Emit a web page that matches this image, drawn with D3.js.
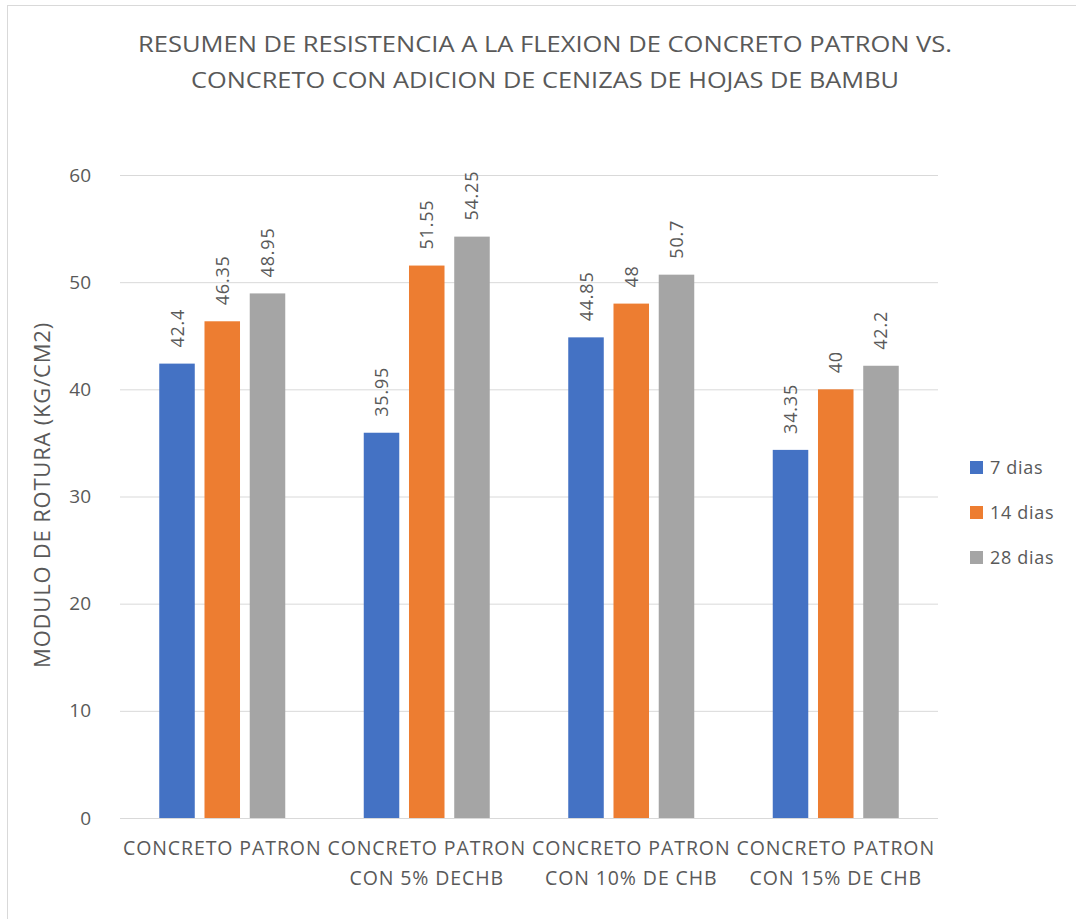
<!DOCTYPE html>
<html>
<head>
<meta charset="utf-8">
<script src="https://cdn.jsdelivr.net/npm/d3@7"></script>
<style>
  html, body { margin: 0; padding: 0; background: #fff; }
  svg { display: block; }
  text { font-family: "Open Sans", "Noto Sans", sans-serif; fill: #595959; }
</style>
</head>
<body>
<svg id="chart" width="1076" height="919"></svg>
<script>
// Flexural strength data (kg/cm2) by curing age
const categories = [
  "CONCRETO PATRON",
  "CONCRETO PATRON CON 5% DECHB",
  "CONCRETO PATRON CON 10% DE CHB",
  "CONCRETO PATRON CON 15% DE CHB"
];
const seriesNames = ["7 dias", "14 dias", "28 dias"];
const dias7 = [42.4, 35.95, 44.85, 34.35];
const dias14 = [46.35, 51.55, 48, 40];
const dias28 = [48.95, 54.25, 50.7, 42.2];
const yTicks = [0, 10, 20, 30, 40, 50, 60];
const titleLines = [
  "RESUMEN DE RESISTENCIA A LA FLEXION DE CONCRETO PATRON VS.",
  "CONCRETO CON ADICION DE CENIZAS DE HOJAS DE BAMBU"
];
const yTitle = "MODULO DE ROTURA (KG/CM2)";

const colors = ["#4472C4", "#ED7D31", "#A5A5A5"];
const seriesValues = [dias7, dias14, dias28];

const svg = d3.select("#chart");

// chart area border
svg.append("rect")
  .attr("x", 7.5).attr("y", 5.5)
  .attr("width", 1200).attr("height", 1200)
  .attr("fill", "none").attr("stroke", "#D9D9D9");

const plot = { left: 120, right: 938, top: 175, bottom: 818 };

const x0 = d3.scaleBand()
  .domain(categories)
  .range([plot.left, plot.right])
  .paddingInner(0).paddingOuter(0);

const inner = 126;
const x1 = d3.scaleBand()
  .domain(seriesNames)
  .range([(x0.bandwidth() - inner) / 2, (x0.bandwidth() + inner) / 2])
  .paddingInner(0.215).paddingOuter(0);

const y = d3.scaleLinear().domain([0, 60]).range([plot.bottom, plot.top]);

// horizontal gridlines
const yAxis = d3.axisLeft(y).tickValues(yTicks).tickSize(-(plot.right - plot.left)).tickPadding(29);
const gy = svg.append("g").attr("transform", `translate(${plot.left},0)`).call(yAxis);
gy.select(".domain").remove();
gy.selectAll(".tick line").attr("stroke", "#D9D9D9").attr("stroke-width", 1);
gy.selectAll(".tick text")
  .attr("font-size", 19)
  .attr("fill", "#595959")
  .style("font-family", '"Open Sans", sans-serif');

// bars
const groups = svg.append("g").selectAll("g")
  .data(categories)
  .join("g")
  .attr("transform", d => `translate(${x0(d)},0)`);

groups.selectAll("rect")
  .data((d, i) => seriesNames.map((s, j) => ({ s, j, v: seriesValues[j][i] })))
  .join("rect")
  .attr("x", d => x1(d.s))
  .attr("y", d => y(d.v))
  .attr("width", x1.bandwidth())
  .attr("height", d => y(0) - y(d.v))
  .attr("fill", d => colors[d.j]);

// value labels, rotated
groups.selectAll("text.val")
  .data((d, i) => seriesNames.map((s, j) => ({ s, j, v: seriesValues[j][i] })))
  .join("text")
  .attr("class", "val")
  .attr("transform", d => `translate(${x1(d.s) + x1.bandwidth() / 2 + 6.5},${y(d.v) - 16}) rotate(-90)`)
  .attr("font-size", 18)
  .attr("letter-spacing", 0.8)
  .text(d => String(d.v));

// category axis line
svg.append("line")
  .attr("x1", plot.left).attr("x2", plot.right)
  .attr("y1", plot.bottom + 0.5).attr("y2", plot.bottom + 0.5)
  .attr("stroke", "#D9D9D9");

// category labels (two lines each)
const catLabels = svg.append("g").selectAll("text")
  .data(categories)
  .join("text")
  .attr("text-anchor", "middle")
  .attr("font-size", 19.5)
  .attr("letter-spacing", 0.9)
  .attr("x", d => x0(d) + x0.bandwidth() / 2);
catLabels.each(function (d) {
  const idx = d.indexOf("PATRON") + "PATRON".length;
  const lines = [d.slice(0, idx).trim(), d.slice(idx).trim()].filter(s => s.length);
  const t = d3.select(this);
  lines.forEach((ln, k) => {
    t.append("tspan")
      .attr("x", x0(d) + x0.bandwidth() / 2)
      .attr("y", 855 + k * 30)
      .text(ln);
  });
});

// title
const titleWidths = [814, 708];
svg.append("g").selectAll("text")
  .data(titleLines)
  .join("text")
  .attr("x", 545)
  .attr("y", (d, i) => 52 + i * 36)
  .attr("text-anchor", "middle")
  .attr("font-size", 21)
  .attr("textLength", (d, i) => titleWidths[i])
  .attr("lengthAdjust", "spacingAndGlyphs")
  .text(d => d);

// y axis title
svg.append("text")
  .attr("transform", `translate(50,495) rotate(-90)`)
  .attr("text-anchor", "middle")
  .attr("font-size", 22)
  .attr("letter-spacing", 0.8)
  .text(yTitle);

// legend
const legend = svg.append("g").selectAll("g")
  .data(seriesNames)
  .join("g")
  .attr("transform", (d, i) => `translate(970,${461 + i * 45})`);
legend.append("rect")
  .attr("width", 13).attr("height", 13)
  .attr("fill", (d, i) => colors[i]);
legend.append("text")
  .attr("x", 20).attr("y", 12.5)
  .attr("font-size", 18)
  .attr("letter-spacing", 0.7)
  .text(d => d);
</script>
</body>
</html>
